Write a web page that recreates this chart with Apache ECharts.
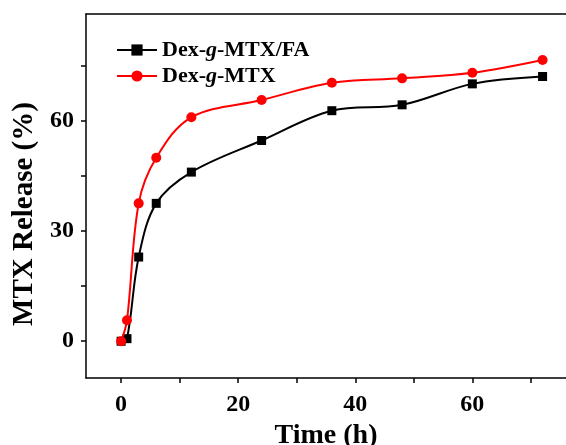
<!DOCTYPE html>
<html>
<head>
<meta charset="utf-8">
<script src="https://cdn.jsdelivr.net/npm/echarts@6/dist/echarts.min.js"></script>
<style>
  html, body { margin: 0; padding: 0; background: #fff; }
  #chart { width: 566px; height: 445px; }
</style>
</head>
<body>
<div id="chart"></div>
<script>
// release times (h)
const times = [0, 1, 3, 6, 12, 24, 36, 48, 60, 72];
// MTX release (%)
const releaseFA = [0, 0.7, 22.9, 37.5, 46, 54.6, 62.7, 64.3, 70, 72];
const releaseMTX = [0, 5.7, 37.5, 49.9, 60.9, 65.6, 70.3, 71.5, 73, 76.5];

const xTicks = [0, 10, 20, 30, 40, 50, 60, 70];
const xLabels = [0, 20, 40, 60];
const yTicks = [0, 15, 30, 45, 60, 75];
const yLabels = [0, 30, 60];

const serif = '"Liberation Serif", "Times New Roman", serif';

function pairs(xs, ys) {
    return xs.map(function (x, i) { return [x, ys[i]]; });
}

let chart = echarts.init(document.getElementById("chart"));
let option = {
    animation: false,
    grid: { left: 86, right: 0, top: 14, bottom: 67, outerBoundsMode: 'none' },
    legend: {
        orient: 'vertical',
        left: 111,
        top: 34,
        itemWidth: 40,
        itemHeight: 14,
        itemGap: 4,
        textStyle: {
            fontFamily: serif,
            fontWeight: 'bold',
            fontSize: 22,
            color: '#000',
            rich: {
                i: { fontFamily: serif, fontWeight: 'bold', fontStyle: 'italic', fontSize: 22, color: '#000' }
            }
        },
        formatter: function (name) {
            return name.replace('-g-', '-{i|g}-');
        },
        data: ['Dex-g-MTX/FA', 'Dex-g-MTX']
    },
    xAxis: [ {
        type: 'value',
        min: -6,
        max: 76,
        name: 'Time (h)',
        nameLocation: 'middle',
        nameGap: 31,
        nameTextStyle: { fontFamily: serif, fontWeight: 'bold', fontSize: 28, color: '#000', lineHeight: 28 },
        axisLine: { show: true, onZero: false, lineStyle: { color: '#000', width: 1.5 } },
        axisTick: { show: true, length: 5, customValues: xTicks, lineStyle: { color: '#000', width: 1.5 } },
        axisLabel: {
            customValues: xLabels, margin: 15,
            fontFamily: serif, fontWeight: 'bold', fontSize: 24, color: '#000'
        },
        splitLine: { show: false }
    }, {
        type: 'value',
        position: 'top',
        min: -6,
        max: 76,
        axisLine: { show: true, onZero: false, lineStyle: { color: '#000', width: 1.5 } },
        axisTick: { show: false },
        axisLabel: { show: false },
        splitLine: { show: false }
    } ],
    yAxis: {
        type: 'value',
        min: -10,
        max: 89,
        name: 'MTX Release (%)',
        nameLocation: 'middle',
        nameGap: 42,
        nameTextStyle: {
            fontFamily: serif, fontWeight: 'bold', fontSize: 29, color: '#000',
            padding: [0, 36, 0, 0]
        },
        axisLine: { show: true, onZero: false, lineStyle: { color: '#000', width: 1.5 } },
        axisTick: { show: true, length: 5, customValues: yTicks, lineStyle: { color: '#000', width: 1.5 } },
        axisLabel: {
            customValues: yLabels, margin: 12,
            fontFamily: serif, fontWeight: 'bold', fontSize: 24, color: '#000'
        },
        splitLine: { show: false }
    },
    series: [ {
        name: 'Dex-g-MTX/FA',
        type: 'line',
        smooth: 0.35,
        symbol: 'rect',
        symbolSize: 9,
        z: 2,
        itemStyle: { color: '#000' },
        lineStyle: { color: '#000', width: 2 },
        data: pairs(times, releaseFA)
    }, {
        name: 'Dex-g-MTX',
        type: 'line',
        smooth: 0.35,
        symbol: 'circle',
        symbolSize: 10,
        z: 3,
        itemStyle: { color: '#ff0000' },
        lineStyle: { color: '#ff0000', width: 2 },
        data: pairs(times, releaseMTX)
    } ]
};
chart.setOption(option);
</script>
</body>
</html>
